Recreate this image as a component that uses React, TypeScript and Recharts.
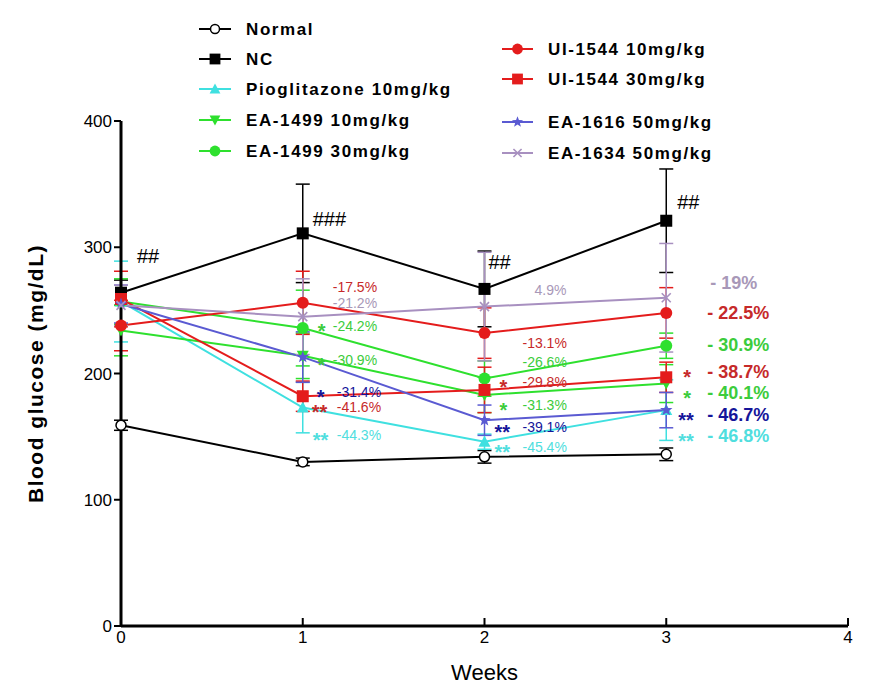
import React from "react";
import { LineChart, Line, XAxis, YAxis, ErrorBar, ReferenceDot, Legend } from "recharts";

const weeks = [0, 1, 2, 3];

const normal = [159, 130, 134, 136];
const normalErr = [4, 3, 5, 5];
const nc = [264, 311, 267, 321];
const ncErr = [10, 39, 30, 41];
const pioglitazone = [257, 173, 146, 171];
const pioglitazoneErr = [32, 20, 6, 24];
const ea1499low = [234, 214, 183, 192];
const ea1499lowErr = [20, 18, 14, 15];
const ea1499high = [257, 236, 196, 222];
const ea1499highErr = [18, 30, 14, 10];
const ui1544low = [238, 256, 232, 248];
const ui1544lowErr = [20, 25, 20, 20];
const ui1544high = [259, 182, 187, 197];
const ui1544highErr = [22, 12, 18, 12];
const ea1616 = [255, 213, 163, 171];
const ea1616Err = [15, 20, 12, 14];
const ea1634 = [254, 245, 253, 260];
const ea1634Err = [16, 30, 43, 43];

const FONT = "Arial, 'Liberation Sans', Helvetica, sans-serif";

const series = [
  { key: "normal", name: "Normal", values: normal, errors: normalErr, color: "#000000", shape: "openCircle" },
  { key: "nc", name: "NC", values: nc, errors: ncErr, color: "#000000", shape: "square" },
  { key: "pio", name: "Pioglitazone 10mg/kg", values: pioglitazone, errors: pioglitazoneErr, color: "#3fe0e0", shape: "triUp" },
  { key: "ea1499l", name: "EA-1499 10mg/kg", values: ea1499low, errors: ea1499lowErr, color: "#2ee02e", shape: "triDown" },
  { key: "ea1499h", name: "EA-1499 30mg/kg", values: ea1499high, errors: ea1499highErr, color: "#2ee02e", shape: "circle" },
  { key: "ui1544l", name: "UI-1544 10mg/kg", values: ui1544low, errors: ui1544lowErr, color: "#e41c1c", shape: "circle" },
  { key: "ui1544h", name: "UI-1544 30mg/kg", values: ui1544high, errors: ui1544highErr, color: "#e41c1c", shape: "square" },
  { key: "ea1616", name: "EA-1616 50mg/kg", values: ea1616, errors: ea1616Err, color: "#5a5ad2", shape: "star" },
  { key: "ea1634", name: "EA-1634 50mg/kg", values: ea1634, errors: ea1634Err, color: "#a890c0", shape: "cross" },
];

const data = weeks.map((week, i) => {
  const row: Record<string, number> = { week };
  series.forEach((s) => {
    row[s.key] = s.values[i];
    row[s.key + "Err"] = s.errors[i];
  });
  return row;
});

const RED_TXT = "#c62a2a";
const GREEN_TXT = "#3ccc3c";
const NAVY_TXT = "#15159a";
const CYAN_TXT = "#50dede";
const PURPLE_TXT = "#a898b8";

// significance marks and % change vs NC
const notes = [
  { week: 0, value: 293, dx: 16, text: "##", color: "#000", size: 20 },
  { week: 1, value: 322, dx: 10, text: "###", color: "#000", size: 20 },
  { week: 2, value: 288, dx: 4, text: "##", color: "#000", size: 20 },
  { week: 3, value: 336, dx: 11, text: "##", color: "#000", size: 20 },

  { week: 1, value: 268.5, dx: 30, text: "-17.5%", color: RED_TXT, size: 14 },
  { week: 1, value: 255.8, dx: 30, text: "-21.2%", color: PURPLE_TXT, size: 14 },
  { week: 1, value: 237.6, dx: 30, text: "-24.2%", color: GREEN_TXT, size: 14, mark: "*", markDx: 15 },
  { week: 1, value: 210.7, dx: 30, text: "-30.9%", color: GREEN_TXT, size: 14, mark: "*", markDx: 15 },
  { week: 1, value: 185.3, dx: 34, text: "-31.4%", color: NAVY_TXT, size: 14, mark: "*", markDx: 14 },
  { week: 1, value: 173.5, dx: 34, text: "-41.6%", color: RED_TXT, size: 14, mark: "**", markDx: 9 },
  { week: 1, value: 151.3, dx: 34, text: "-44.3%", color: CYAN_TXT, size: 14, mark: "**", markDx: 10 },

  { week: 2, value: 266.1, dx: 50, text: "4.9%", color: PURPLE_TXT, size: 14 },
  { week: 2, value: 224.2, dx: 38, text: "-13.1%", color: RED_TXT, size: 14 },
  { week: 2, value: 209.1, dx: 38, text: "-26.6%", color: GREEN_TXT, size: 14 },
  { week: 2, value: 193.3, dx: 38, text: "-29.8%", color: RED_TXT, size: 14, mark: "*", markDx: 15 },
  { week: 2, value: 175, dx: 38, text: "-31.3%", color: GREEN_TXT, size: 14, mark: "*", markDx: 15 },
  { week: 2, value: 157.6, dx: 38, text: "-39.1%", color: NAVY_TXT, size: 14, mark: "**", markDx: 10 },
  { week: 2, value: 141.8, dx: 38, text: "-45.4%", color: CYAN_TXT, size: 14, mark: "**", markDx: 10 },

  { week: 3, value: 271.7, dx: 44, text: "- 19%", color: PURPLE_TXT, size: 18, bold: true },
  { week: 3, value: 247.9, dx: 41, text: "- 22.5%", color: RED_TXT, size: 18, bold: true },
  { week: 3, value: 222.6, dx: 41, text: "- 30.9%", color: GREEN_TXT, size: 18, bold: true },
  { week: 3, value: 201.2, dx: 41, text: "- 38.7%", color: RED_TXT, size: 18, bold: true, mark: "*", markDx: 17 },
  { week: 3, value: 184.6, dx: 41, text: "- 40.1%", color: GREEN_TXT, size: 18, bold: true, mark: "*", markDx: 17 },
  { week: 3, value: 167.1, dx: 41, text: "- 46.7%", color: NAVY_TXT, size: 18, bold: true, mark: "**", markDx: 12 },
  { week: 3, value: 150.5, dx: 41, text: "- 46.8%", color: CYAN_TXT, size: 18, bold: true, mark: "**", markDx: 12 },
];

function Marker({ shape, cx, cy, color, scale = 1 }: { shape: string; cx: number; cy: number; color: string; scale?: number }) {
  const s = scale;
  switch (shape) {
    case "openCircle":
      return <circle cx={cx} cy={cy} r={5 * s} fill="#fff" stroke={color} strokeWidth={1.5} />;
    case "square":
      return <rect x={cx - 6 * s} y={cy - 6 * s} width={12 * s} height={12 * s} fill={color} />;
    case "triUp":
      return <polygon points={`${cx},${cy - 6 * s} ${cx + 6 * s},${cy + 5 * s} ${cx - 6 * s},${cy + 5 * s}`} fill={color} />;
    case "triDown":
      return <polygon points={`${cx},${cy + 6 * s} ${cx + 6 * s},${cy - 5 * s} ${cx - 6 * s},${cy - 5 * s}`} fill={color} />;
    case "circle":
      return <circle cx={cx} cy={cy} r={6 * s} fill={color} />;
    case "star": {
      const pts: string[] = [];
      for (let k = 0; k < 10; k++) {
        const r = (k % 2 === 0 ? 6.5 : 2.7) * s;
        const a = -Math.PI / 2 + (k * Math.PI) / 5;
        pts.push(`${cx + r * Math.cos(a)},${cy + r * Math.sin(a)}`);
      }
      return <polygon points={pts.join(" ")} fill={color} />;
    }
    case "cross":
      return (
        <g stroke={color} strokeWidth={1.6}>
          <line x1={cx - 4.5 * s} y1={cy - 4.5 * s} x2={cx + 4.5 * s} y2={cy + 4.5 * s} />
          <line x1={cx - 4.5 * s} y1={cy + 4.5 * s} x2={cx + 4.5 * s} y2={cy - 4.5 * s} />
        </g>
      );
    default:
      return null;
  }
}

const legendLeftRows = [29, 59, 89, 120, 151];
const legendRightRows = [49, 79, 122, 153];

function LegendPanel() {
  return (
    <svg width={892} height={170} style={{ display: "block" }}>
      {series.map((s, i) => {
        const left = i < 5;
        const y = left ? legendLeftRows[i] : legendRightRows[i - 5];
        const x0 = left ? 199 : 502;
        const x1 = left ? 231 : 533;
        const tx = left ? 246 : 548;
        return (
          <g key={s.key}>
            <line x1={x0} y1={y} x2={x1} y2={y} stroke={s.color} strokeWidth={2} />
            <Marker shape={s.shape} cx={(x0 + x1) / 2} cy={y} color={s.color} scale={0.9} />
            <text x={tx} y={y} dominantBaseline="central" fontFamily={FONT} fontWeight="bold" fontSize={17} letterSpacing={1.6} fill="#000">
              {s.name}
            </text>
          </g>
        );
      })}
    </svg>
  );
}

function NoteText({ cx, cy, note }: { cx: number; cy: number; note: any }) {
  const markSize = 20;
  return (
    <g>
      {note.mark && (
        <text x={cx + note.markDx} y={cy + markSize * 0.58} fontFamily={FONT} fontWeight="bold" fontSize={markSize} fill={note.color}>
          {note.mark}
        </text>
      )}
      <text x={cx + note.dx} y={cy} dominantBaseline="central" fontFamily={FONT} fontSize={note.size} fontWeight={note.bold ? "bold" : "normal"} fill={note.color}>
        {note.text}
      </text>
    </g>
  );
}

export default function App() {
  return (
    <div style={{ position: "absolute", left: 0, top: 0, width: 892, height: 691, background: "#fff" }}>
      <LineChart width={892} height={691} data={data} margin={{ top: 121, right: 44, bottom: 0, left: 61 }} style={{ fontFamily: FONT }}>
        <XAxis
          type="number"
          dataKey="week"
          domain={[0, 4]}
          ticks={[0, 1, 2, 3, 4]}
          height={65}
          axisLine={{ stroke: "#000", strokeWidth: 3 }}
          tickLine={{ stroke: "#000", strokeWidth: 2 }}
          tickSize={-8}
          tickMargin={13}
          tick={{ fill: "#000", fontSize: 17 }}
          label={{ value: "Weeks", position: "insideBottom", offset: 11, fill: "#000", fontSize: 22 }}
        />
        <YAxis
          type="number"
          domain={[0, 400]}
          ticks={[0, 100, 200, 300, 400]}
          width={60}
          axisLine={{ stroke: "#000", strokeWidth: 3 }}
          tickLine={{ stroke: "#000", strokeWidth: 2 }}
          tickSize={7}
          tickMargin={2}
          tick={{ fill: "#000", fontSize: 17 }}
          label={{
            content: (props: any) => {
              const vb = props.viewBox || { x: 61, y: 121, width: 60, height: 505 };
              const x = vb.x - 26;
              const y = vb.y + vb.height / 2;
              return (
                <text x={x} y={y} transform={`rotate(-90, ${x}, ${y})`} textAnchor="middle" dominantBaseline="central" fontFamily={FONT} fontSize={21} fontWeight="bold" letterSpacing={1.5} fill="#000">
                  Blood glucose (mg/dL)
                </text>
              );
            },
          }}
        />
        <Legend
          layout="horizontal"
          verticalAlign="middle"
          align="center"
          wrapperStyle={{ left: 0, top: 0, width: 892, height: 170 }}
          content={() => <LegendPanel />}
        />
        {series.map((s) => (
          <Line
            key={s.key}
            type="linear"
            dataKey={s.key}
            name={s.name}
            stroke={s.color}
            strokeWidth={2}
            isAnimationActive={false}
            dot={(p: any) => <Marker key={`${s.key}-${p.index}`} shape={s.shape} cx={p.cx} cy={p.cy} color={s.color} />}
            activeDot={false}
          >
            <ErrorBar dataKey={s.key + "Err"} width={7} strokeWidth={1.5} stroke={s.color} direction="y" />
          </Line>
        ))}
        {notes.map((n, i) => (
          <ReferenceDot
            key={i}
            x={n.week}
            y={n.value}
            r={0}
            ifOverflow="visible"
            shape={(p: any) => <NoteText cx={p.cx} cy={p.cy} note={n} />}
          />
        ))}
      </LineChart>
    </div>
  );
}
